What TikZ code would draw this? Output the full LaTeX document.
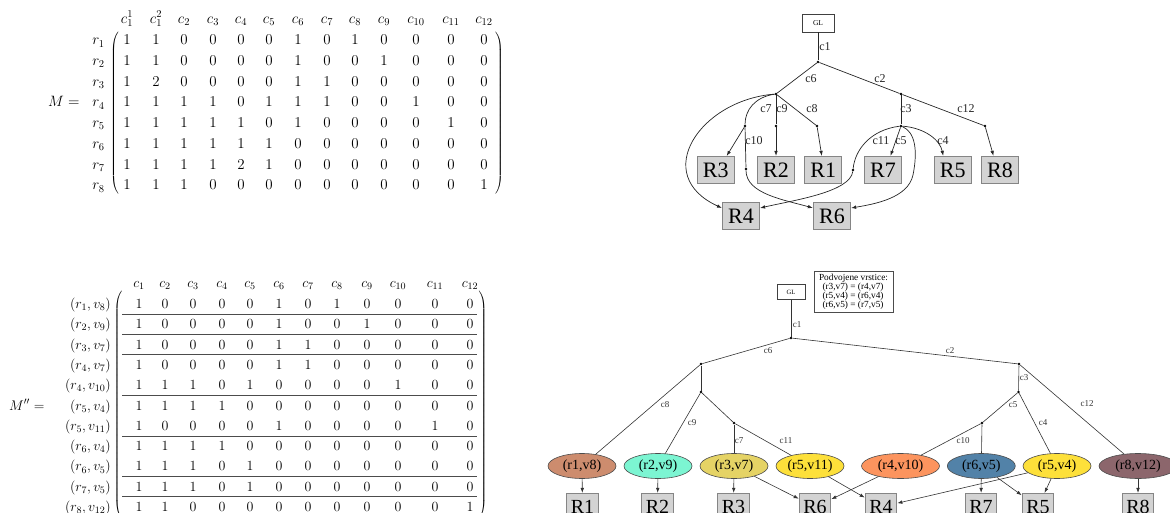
\RequirePackage{fix-cm}
\documentclass[tikz,border=0pt]{standalone}
\usepackage{fontspec}
\newfontfamily\gfont{Liberation Serif}
\usetikzlibrary{shapes.geometric,arrows.meta,calc}
\newcommand\mfontA{\fontsize{15}{18}\selectfont}
\newcommand\mfontB{\fontsize{14}{17}\selectfont}
\definecolor{boxfill}{HTML}{D3D3D3}
\definecolor{boxline}{HTML}{858585}
\definecolor{colA}{HTML}{CD8C6E}
\definecolor{colB}{HTML}{7CF5D2}
\definecolor{colC}{HTML}{E5D365}
\definecolor{colD}{HTML}{FDE03A}
\definecolor{colE}{HTML}{FC945E}
\definecolor{colF}{HTML}{5282A8}
\definecolor{colG}{HTML}{8C666C}
\tikzset{
  mtxt/.style={anchor=base,inner sep=0pt},
  rbox/.style={draw=boxline,fill=boxfill,line width=1.2pt,minimum width=37pt,minimum height=27pt,inner sep=0pt,font=\gfont\fontsize{22}{22}\selectfont},
  rboxb/.style={draw=boxline,fill=boxfill,line width=1.2pt,minimum width=31.5pt,minimum height=27pt,inner sep=0pt,font=\gfont\fontsize{20}{20}\selectfont},
  glbox/.style={draw=black!75,line width=0.7pt,minimum width=32pt,minimum height=18pt,inner sep=0pt,font=\gfont\fontsize{7.5}{8}\selectfont},
  glboxb/.style={draw=black!75,line width=0.7pt,minimum width=28pt,minimum height=15pt,inner sep=0pt,font=\gfont\fontsize{6.5}{7}\selectfont},
  gdot/.style={circle,fill=black,inner sep=0pt,minimum size=2.6pt},
  tl/.style={draw=black!85,line width=0.7pt},
  bl/.style={draw=black!80,line width=0.6pt},
  arr/.style={-{Latex[length=5pt,width=3.6pt]}},
  labA/.style={inner sep=0pt,font=\gfont\fontsize{12}{12}\selectfont,text=black!85},
  labB/.style={inner sep=0pt,font=\gfont\fontsize{9}{9}\selectfont,text=black!80},
  ell/.style={ellipse,draw=black!70,line width=0.6pt,minimum width=68pt,minimum height=25pt,inner sep=0pt,font=\gfont\fontsize{14}{14}\selectfont},
  hl/.style={draw=black!70,line width=1pt},
}
\begin{document}
\begin{tikzpicture}[x=1pt,y=-1pt]
\useasboundingbox (0,0) rectangle (1170,513);
\clip (0,0) rectangle (1170,513);

% ---------------- Top matrix ----------------
\def\colsA{{127,156,184,213,241,269,298,327,355,384,416,451,484}}
\begin{scope}[font=\mfontA]
\foreach \h [count=\j] in {c_1^1,c_1^2,c_2,c_3,c_4,c_5,c_6,c_7,c_8,c_9,c_{10},c_{11},c_{12}} {
  \pgfmathsetmacro\xx{\colsA[\j-1]}
  \node[mtxt,name=hA\j] at (\xx,23.2) {$\h$};
}
\foreach \rowvals [count=\i] in {
 {1,1,0,0,0,0,1,0,1,0,0,0,0},
 {1,1,0,0,0,0,1,0,0,1,0,0,0},
 {1,2,0,0,0,0,1,1,0,0,0,0,0},
 {1,1,1,1,0,1,1,1,0,0,1,0,0},
 {1,1,1,1,1,0,1,0,0,0,0,1,0},
 {1,1,1,1,1,1,0,0,0,0,0,0,0},
 {1,1,1,1,2,1,0,0,0,0,0,0,0},
 {1,1,1,0,0,0,0,0,0,0,0,0,1}} {
  \pgfmathsetmacro\yy{40+(\i-1)*20.7+4.85}
  \node[mtxt,name=rA\i] at (98.5,\yy) {$r_{\i}$};
  \foreach \v [count=\j] in \rowvals {
    \pgfmathsetmacro\xx{\colsA[\j-1]}
    \node[mtxt,name=mA\i-\j] at (\xx,\yy) {$\v$};
  }
}
\node[anchor=base west,inner sep=0pt] (MA) at (48,106.9) {$M={}$};
\node[inner sep=0pt] (lpA) at (115,113) {\delimiterfactor=1000 \delimitershortfall=0pt $\left(\vrule height 84pt depth 76pt width 0pt\right.$};
\node[inner sep=0pt] (rpA) at (499,113) {\delimiterfactor=1000 \delimitershortfall=0pt $\left.\vrule height 84pt depth 76pt width 0pt\right)$};
\end{scope}

% ---------------- Bottom matrix ----------------
\def\colsB{{139,165,193,222,250,279,308,337,367,398,435,470}}
\begin{scope}[font=\mfontB]
\foreach \h [count=\j] in {c_1,c_2,c_3,c_4,c_5,c_6,c_7,c_8,c_9,c_{10},c_{11},c_{12}} {
  \pgfmathsetmacro\xx{\colsB[\j-1]}
  \node[mtxt,name=hB\j] at (\xx,287.5) {$\h$};
}
\foreach \a/\b [count=\i] in {1/8,2/9,3/7,4/7,4/10,5/4,5/11,6/4,6/5,7/5,8/12} {
  \pgfmathsetmacro\yy{304+(\i-1)*20.3+4.5}
  \node[anchor=base east,inner sep=0pt,name=rB\i] at (111,\yy) {$(r_{\a},v_{\b})$};
}
\foreach \rowvals [count=\i] in {
 {1,0,0,0,0,1,0,1,0,0,0,0},
 {1,0,0,0,0,1,0,0,1,0,0,0},
 {1,0,0,0,0,1,1,0,0,0,0,0},
 {1,0,0,0,0,1,1,0,0,0,0,0},
 {1,1,1,0,1,0,0,0,0,1,0,0},
 {1,1,1,1,0,0,0,0,0,0,0,0},
 {1,0,0,0,0,1,0,0,0,0,1,0},
 {1,1,1,1,0,0,0,0,0,0,0,0},
 {1,1,1,0,1,0,0,0,0,0,0,0},
 {1,1,1,0,1,0,0,0,0,0,0,0},
 {1,1,0,0,0,0,0,0,0,0,0,1}} {
  \pgfmathsetmacro\yy{304+(\i-1)*20.3+4.5}
  \foreach \v [count=\j] in \rowvals {
    \pgfmathsetmacro\xx{\colsB[\j-1]}
    \node[mtxt,name=mB\i-\j] at (\xx,\yy) {$\v$};
  }
}
\foreach \yl in {314.2,334.5,354.8,395.4,436,476.6,496.9} {
  \draw[hl] (122,\yl) -- (477,\yl);
}
\node[anchor=base west,inner sep=0pt] (MB) at (9,410) {$M''={}$};
\node[inner sep=0pt] (lpB) at (118.5,405.5) {\delimiterfactor=1000 \delimitershortfall=0pt $\left(\vrule height 116pt depth 109pt width 0pt\right.$};
\node[inner sep=0pt] (rpB) at (482.5,405.5) {\delimiterfactor=1000 \delimitershortfall=0pt $\left.\vrule height 116pt depth 109pt width 0pt\right)$};
\end{scope}

% ---------------- Top graph ----------------
\node[glbox] (GLa) at (818,23) {GL};
\node[gdot] (a1) at (818,62) {};
\node[gdot] (a6) at (776,94) {};
\node[gdot] (a2) at (901,94) {};
\node[gdot] (a7) at (745,126) {};
\node[gdot] (a9) at (776,126) {};
\node[gdot] (a8) at (817,126) {};
\node[gdot] (a3) at (901,126) {};
\node[gdot] (a12) at (985,126) {};
\node[gdot] (a10) at (746,169) {};
\node[gdot] (a11) at (853,170) {};
\coordinate (a5) at (913,175);

\node[rbox] (TR3) at (715.7,170) {R3};
\node[rbox] (TR2) at (776,170) {R2};
\node[rbox] (TR1) at (823.3,170) {R1};
\node[rbox] (TR7) at (883,170) {R7};
\node[rbox] (TR5) at (952.7,170) {R5};
\node[rbox] (TR8) at (1000,170) {R8};
\node[rbox] (TR4) at (741,216) {R4};
\node[rbox] (TR6) at (832,216) {R6};

\draw[tl] (GLa) -- (a1);
\draw[tl] (a1) -- (a6);
\draw[tl] (a1) -- (a2);
\draw[tl] (a6) -- (a9);
\draw[tl] (a6) -- (a8);
\draw[tl] (a2) -- (a3);
\draw[tl] (a2) -- (a12);
\draw[tl] (a6) .. controls (755,97) and (745,110) .. (a7);
\draw[tl] (a7) -- (a10);
\draw[tl,arr] (a7) -- ([xshift=11pt]TR3.north);
\draw[tl,arr] (a9) -- (TR2.north);
\draw[tl,arr] (a8) -- ([xshift=-1.5pt]TR1.north);
\draw[tl,arr] (a3) -- ([xshift=7.5pt]TR7.north);
\draw[tl,arr] (a12) -- ([xshift=-6.5pt]TR8.north);
\draw[tl,arr] (a3) .. controls (925,128) and (940,140) .. ([xshift=-9.5pt]TR5.north);
\draw[tl,arr] (a10) .. controls (746,194) and (785,200) .. ([yshift=8pt]TR6.west);
\draw[tl,arr] (a6) .. controls (700,100) and (650,175) .. ([yshift=8pt]TR4.west);
\draw[tl] (a3) .. controls (870,130) and (855,150) .. (a11);
\draw[tl,arr] (a11) .. controls (850,192) and (795,200) .. ([yshift=8pt]TR4.east);
\draw[tl,arr] (a3) .. controls (915,132) and (918,150) .. (a5) .. controls (908,198) and (875,204) .. ([yshift=8pt]TR6.east);

\node[labA] (la1) at (825,47) {c1};
\node[labA] (la6) at (811,79) {c6};
\node[labA] (la2) at (880,79) {c2};
\node[labA] (la7) at (766,109) {c7};
\node[labA] (la9) at (782,109) {c9};
\node[labA] (la8) at (812,109) {c8};
\node[labA] (la3) at (906,109) {c3};
\node[labA] (la12) at (966,109) {c12};
\node[labA] (la10) at (754,141) {c10};
\node[labA] (la11) at (881,141) {c11};
\node[labA] (la5) at (901,141) {c5};
\node[labA] (la4) at (943,141) {c4};

% ---------------- Bottom graph ----------------
\node[glboxb] (GLb) at (791,292) {GL};
\node[draw=black!70,line width=0.6pt,minimum width=79pt,minimum height=41pt,inner sep=0pt,align=left,font=\gfont\fontsize{9.3}{9}\selectfont] (leg) at (853.5,291.5)
  {Podvojene vrstice:\\\hspace*{3.5pt}(r3,v7) = (r4,v7)\\\hspace*{3.5pt}(r5,v4) = (r6,v4)\\\hspace*{3.5pt}(r6,v5) = (r7,v5)};

\node[gdot] (b1) at (791,338) {};
\node[gdot] (b6) at (701,364) {};
\node[gdot] (b2) at (1019,364) {};
\node[gdot] (ba) at (701,392) {};
\node[gdot] (bb) at (734,423) {};
\node[gdot] (b3) at (1018.5,392) {};
\node[gdot] (bc) at (982,423) {};

\node[ell,fill=colA] (e1) at (582,466) {(r1,v8)};
\node[ell,fill=colB] (e2) at (658,466) {(r2,v9)};
\node[ell,fill=colC] (e3) at (734,466) {(r3,v7)};
\node[ell,fill=colD] (e4) at (810,466) {(r5,v11)};
\node[ell,fill=colE,minimum width=78pt] (e5) at (900.5,466) {(r4,v10)};
\node[ell,fill=colF] (e6) at (981.3,466) {(r6,v5)};
\node[ell,fill=colD] (e7) at (1057,466) {(r5,v4)};
\node[ell,fill=colG,minimum width=78pt] (e8) at (1138,466) {(r8,v12)};

\node[rboxb] (B1) at (582.5,507) {R1};
\node[rboxb] (B2) at (657.5,507) {R2};
\node[rboxb] (B3) at (733.5,507) {R3};
\node[rboxb] (B6) at (815,507) {R6};
\node[rboxb] (B4) at (881,507) {R4};
\node[rboxb] (B7) at (981,507) {R7};
\node[rboxb] (B5) at (1038,507) {R5};
\node[rboxb] (B8) at (1138,507) {R8};

\draw[bl] (GLb) -- (b1);
\draw[bl] (b1) -- (b6);
\draw[bl] (b1) -- (b2);
\draw[bl] (b6) -- (ba);
\draw[bl] (b6) -- (e1);
\draw[bl] (ba) -- (e2);
\draw[bl] (ba) -- (bb);
\draw[bl] (bb) -- (e3);
\draw[bl] (bb) -- (e4);
\draw[bl] (b2) -- (b3);
\draw[bl] (b2) -- (e8);
\draw[bl] (b3) -- (bc);
\draw[bl] (b3) -- (e7);
\draw[bl] (bc) -- (e5);
\draw[bl] (bc) -- (e6);

\draw[bl,arr] (e1) -- (B1);
\draw[bl,arr] (e2) -- (B2);
\draw[bl,arr] (e3) -- (B3);
\draw[bl,arr] (e3) -- (B6);
\draw[bl,arr] (e4) -- (B4);
\draw[bl,arr] (e5) -- (B6);
\draw[bl,arr] (e6) -- (B7);
\draw[bl,arr] (e6) -- (B5);
\draw[bl,arr] (e7) -- (B5);
\draw[bl,arr] (e7) -- (B4);
\draw[bl,arr] (e8) -- (B8);

\node[labB] (lb1) at (797,325) {c1};
\node[labB] (lb6) at (768,351) {c6};
\node[labB] (lb2) at (950,351) {c2};
\node[labB] (lb8) at (665,405) {c8};
\node[labB] (lb9) at (692,423) {c9};
\node[labB] (lb7) at (739,441) {c7};
\node[labB] (lb11) at (786,441) {c11};
\node[labB] (lb3) at (1024,378) {c3};
\node[labB] (lb12) at (1087,404) {c12};
\node[labB] (lb5) at (1013,405) {c5};
\node[labB] (lb4) at (1043,423) {c4};
\node[labB] (lb10) at (963,441) {c10};
\end{tikzpicture}
\end{document}
